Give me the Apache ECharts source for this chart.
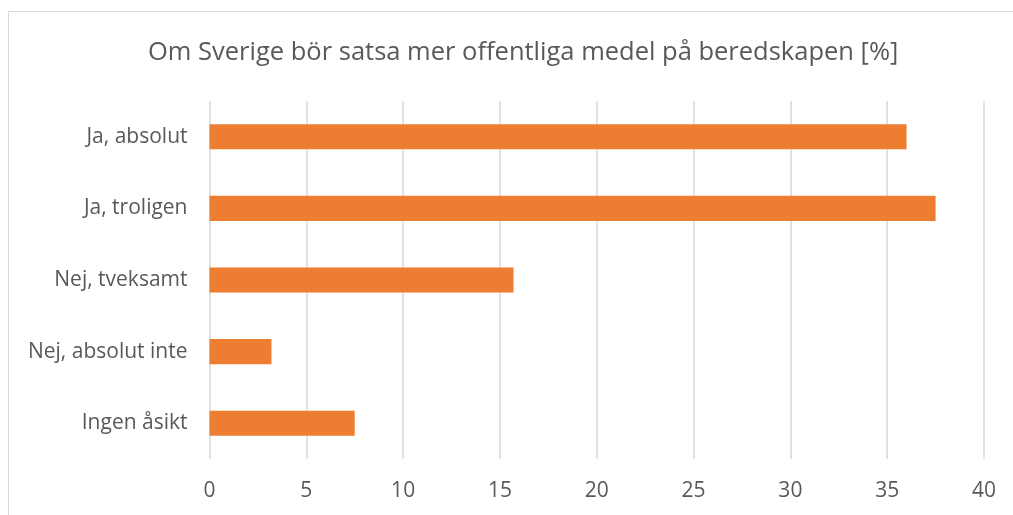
<!DOCTYPE html>
<html>
<head>
<meta charset="utf-8">
<script src="https://cdn.jsdelivr.net/npm/echarts@6/dist/echarts.min.js"></script>
<style>
html,body{margin:0;padding:0;background:#fff;}
#frame{position:absolute;left:8px;top:11px;width:1010px;height:520px;border:1.5px solid #d9d9d9;box-sizing:border-box;}
#chart{position:absolute;left:0;top:0;width:1013px;height:515px;}
</style>
</head>
<body>
<div id="frame"></div>
<div id="chart"></div>
<script>
const titleText = 'Om Sverige bör satsa mer offentliga medel på beredskapen [%]';
const categories = ['Ja, absolut', 'Ja, troligen', 'Nej, tveksamt', 'Nej, absolut inte', 'Ingen åsikt'];
const values = [36.0, 37.5, 15.7, 3.2, 7.5];
const xTicks = [0, 5, 10, 15, 20, 25, 30, 35, 40];

const font = "'Open Sans', 'Liberation Sans', sans-serif";
const chart = echarts.init(document.getElementById('chart'), null, {renderer: 'canvas'});
chart.setOption({
  animation: false,
  backgroundColor: 'transparent',
  title: {
    text: titleText,
    left: 143,
    top: 35,
    textStyle: {fontFamily: font, fontSize: 25.5, fontWeight: 'normal', color: '#595959'}
  },
  grid: {left: 209.5, right: 29, top: 101, bottom: 56, containLabel: false},
  xAxis: {
    type: 'value',
    min: xTicks[0],
    max: xTicks[xTicks.length - 1],
    interval: 5,
    axisLine: {show: false},
    axisTick: {show: false},
    splitLine: {show: true, lineStyle: {color: '#d9d9d9', width: 1.5}},
    axisLabel: {fontFamily: font, fontSize: 21, color: '#595959', margin: 22}
  },
  yAxis: {
    type: 'category',
    data: categories,
    inverse: true,
    axisLine: {show: false},
    axisTick: {show: false},
    axisLabel: {fontFamily: font, fontSize: 21, color: '#595959', margin: 22}
  },
  series: [{
    type: 'bar',
    data: values,
    barWidth: '35%',
    itemStyle: {color: '#ed7d31'}
  }]
});
</script>
</body>
</html>
